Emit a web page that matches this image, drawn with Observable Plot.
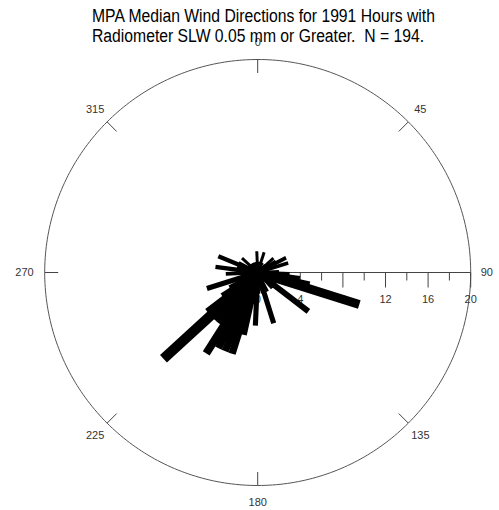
<!DOCTYPE html>
<html><head><meta charset="utf-8">
<script src="https://cdn.jsdelivr.net/npm/d3@7"></script>
<script src="https://cdn.jsdelivr.net/npm/@observablehq/plot@0.6"></script>
<style>
body{margin:0;background:#fff;font-family:"Liberation Sans",Arial,sans-serif;}
#wrap{position:relative;width:499px;height:510px;overflow:hidden;}
.t{position:absolute;left:92px;font-size:18px;line-height:20px;white-space:pre;transform-origin:0 0;transform:scaleX(0.873);color:#000;}
</style></head><body>
<div id="wrap"><div id="chart"></div>
<div class="t" style="top:6px">MPA Median Wind Directions for 1991 Hours with</div>
<div class="t" style="top:26px">Radiometer SLW 0.05 mm or Greater.  N = 194.</div>
</div>
<script>
// Wind direction bins (degrees, clockwise from north) and counts
const directions = [2.5, 12.5, 17.5, 27.5, 42.5, 47.5, 52.5, 57.5, 62.5, 67.5, 72.5, 77.5, 82.5, 87.5,
  92.5, 97.5, 102.5, 107.5, 112.5, 117.5, 122.5, 127.5, 132.5, 137.5, 152.5, 162.5, 167.5, 177.5,
  182.5, 187.5, 192.5, 197.5, 202.5, 207.5, 212.5, 217.5, 222.5, 227.5, 232.5, 237.5, 242.5, 247.5,
  252.5, 257.5, 262.5, 267.5, 272.5, 277.5, 282.5, 287.5, 292.5, 297.5, 302.5, 307.5, 312.5, 317.5,
  322.5, 332.5, 342.5, 352.5, 357.5];
const counts = [1, 1, 2, 1, 1, 2, 1, 2, 3, 1, 3, 1, 1, 2,
  3, 4, 5, 10, 2, 2, 2, 6, 2, 2, 2, 5, 2, 2,
  5, 3, 6, 8, 8, 8, 9, 6, 6, 12, 6, 4, 3, 2,
  5, 1, 1, 3, 2, 4, 2, 2, 4, 2, 1, 1, 2, 1,
  1, 1, 1, 1, 2];
const compassLabels = ["0", "45", "90", "135", "180", "225", "270", "315"];
const compassAngles = [0, 45, 90, 135, 180, 225, 270, 315];
const radialLabels = ["0", "4", "8", "12", "16", "20"];
const radialTicks = [0, 4, 8, 12, 16, 20];
const minorTicks = [2, 6, 10, 14, 18];
const rMax = 20;

const W = 499, H = 510;
const cx = 257.2, cy = 272, k = 213 / rMax; // px per unit
const rad = d => d * Math.PI / 180;
const px = u => u * k;

const bars = directions.map((d, i) => ({d, c: counts[i]}));
const circle = d3.range(0, 361, 1).map(a => ({x: rMax * Math.sin(rad(a)), y: rMax * Math.cos(rad(a))}));
const angTicks = compassAngles.map(a => ({a}));
const labR = 230 / k;

const chart = Plot.plot({
  width: W, height: H,
  marginTop: 0, marginBottom: 0, marginLeft: 0, marginRight: 0,
  x: {domain: [-cx / k, (W - cx) / k], axis: null},
  y: {domain: [-(H - cy) / k, cy / k], axis: null},
  style: {fontFamily: "'Liberation Sans', Arial, sans-serif", background: "white"},
  marks: [
    Plot.line(circle, {x: "x", y: "y", stroke: "#555", strokeWidth: 1}),
    Plot.link(angTicks, {
      x1: d => rMax * Math.sin(rad(d.a)), y1: d => rMax * Math.cos(rad(d.a)),
      x2: d => (rMax - 13.5 / k) * Math.sin(rad(d.a)), y2: d => (rMax - 13.5 / k) * Math.cos(rad(d.a)),
      stroke: "#444", strokeWidth: 1
    }),
    Plot.text(compassAngles.filter(a => a !== 90 && a !== 270), {
      x: a => labR * Math.sin(rad(a)), y: a => labR * Math.cos(rad(a)),
      text: a => compassLabels[compassAngles.indexOf(a)],
      fontSize: 11, fill: "#333", textAnchor: "middle"
    }),
    Plot.text([90], {x: 223 / k, y: 0, text: a => compassLabels[compassAngles.indexOf(a)], fontSize: 11, fill: "#333", textAnchor: "start"}),
    Plot.text([270], {x: -224 / k, y: 0, text: a => compassLabels[compassAngles.indexOf(a)], fontSize: 11, fill: "#333", textAnchor: "end"}),
    Plot.ruleY([0], {x1: 0, x2: rMax, stroke: "#444", strokeWidth: 1}),
    Plot.link(radialTicks, {x1: d => d, x2: d => d, y1: 0, y2: -15 / k, stroke: "#444", strokeWidth: 1}),
    Plot.link(minorTicks, {x1: d => d, x2: d => d, y1: 0, y2: -8 / k, stroke: "#444", strokeWidth: 1}),
    Plot.text(radialTicks, {x: d => d, y: -27 / k, text: (d, i) => radialLabels[i], fontSize: 11, fill: "#333"}),
    Plot.link(bars.filter(b => b.c > 0), {
      x1: 0, y1: 0,
      x2: b => b.c * Math.sin(rad(b.d)), y2: b => b.c * Math.cos(rad(b.d)),
      stroke: "black", strokeWidth: b => 1.5 + 0.068 * px(b.c), strokeLinecap: "butt"
    })
  ]
});
document.getElementById("chart").appendChild(chart);
</script>
</body></html>
